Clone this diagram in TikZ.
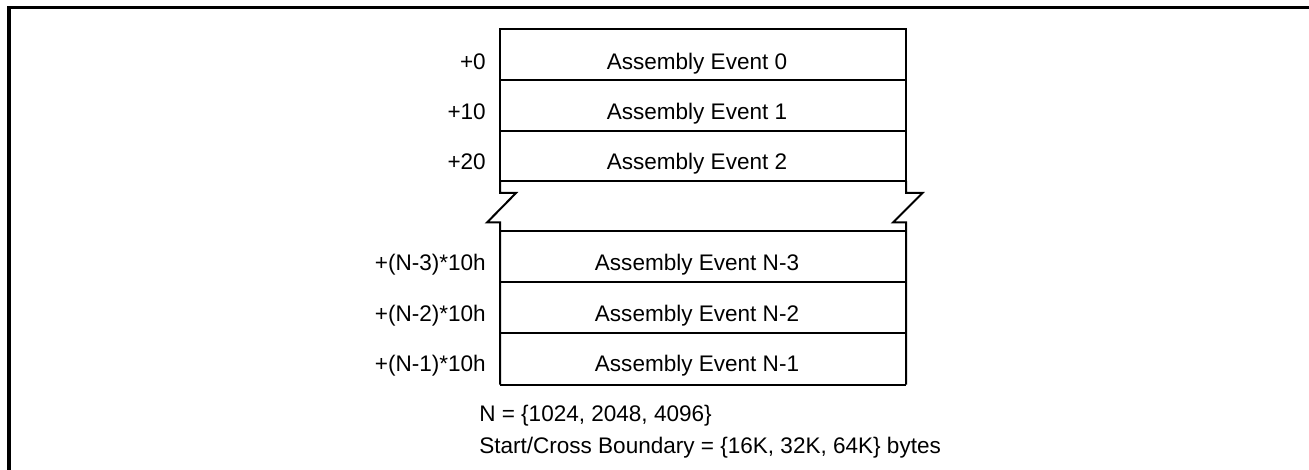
\documentclass[tikz,border=0pt]{standalone}
\usepackage{fontspec}
\setmainfont{Liberation Sans}
\begin{document}
\begin{tikzpicture}[x=0.75pt,y=-0.75pt,
  boxline/.style={line width=1.5pt,line join=miter},
  txt/.style={font=\fontsize{16.9}{20}\selectfont,inner sep=0pt},
  rowtext/.style={txt,anchor=base},
  offtext/.style={txt,anchor=base east},
  notetext/.style={txt,anchor=base west}]
\useasboundingbox (0,0) rectangle (1309,470);
\clip (0,0) rectangle (1309,470);
% frame
\draw[line width=2.5pt] (9,480) -- (9,7.7) -- (1320,7.7);
% coordinates
\coordinate (tl) at (500,29.5);
\coordinate (tr) at (906,29.5);
\coordinate (r1l) at (500,80.5);
\coordinate (r1r) at (906,80.5);
\coordinate (r2l) at (500,131);
\coordinate (r2r) at (906,131);
\coordinate (r3l) at (500,181);
\coordinate (r3r) at (906,181);
\coordinate (bl) at (500,384.5);
\coordinate (br) at (906,384.5);
\coordinate (s1l) at (500,231.5);
\coordinate (s1r) at (906,231.5);
\coordinate (s2l) at (500,282);
\coordinate (s2r) at (906,282);
\coordinate (s3l) at (500,332.5);
\coordinate (s3r) at (906,332.5);
% upper part
\draw[boxline] (r3l) -- (tl) -- (tr) -- (r3r);
\draw[boxline] (r1l) -- (r1r);
\draw[boxline] (r2l) -- (r2r);
\draw[boxline] (r3l) -- (r3r);
% breaks
\draw[boxline] (r3l) -- (500,193) -- (516,193) -- (487,222.5) -- (500,222.5) -- (bl);
\draw[boxline] (r3r) -- (906,193) -- (922.5,193) -- (893,222.5) -- (906,222.5) -- (br);
% lower part
\draw[boxline] (bl) -- (br);
\draw[boxline] (s1l) -- (s1r);
\draw[boxline] (s2l) -- (s2r);
\draw[boxline] (s3l) -- (s3r);
% row texts
\node[rowtext] (e0) at (697,69.3) {Assembly Event 0};
\node[rowtext] (e1) at (697,119.5) {Assembly Event 1};
\node[rowtext] (e2) at (697,170) {Assembly Event 2};
\node[rowtext] (e3) at (697,270.5) {Assembly Event N-3};
\node[rowtext] (e4) at (697,321) {Assembly Event N-2};
\node[rowtext] (e5) at (697,371.5) {Assembly Event N-1};
% offsets
\node[offtext] (o0) at (486,69.3) {+0};
\node[offtext] (o1) at (486,119.5) {+10};
\node[offtext] (o2) at (486,170) {+20};
\node[offtext] (o3) at (486,270.5) {+(N-3)*10h};
\node[offtext] (o4) at (486,321) {+(N-2)*10h};
\node[offtext] (o5) at (486,371.5) {+(N-1)*10h};
% notes
\node[notetext] (n1) at (479,421.7) {N = \{1024, 2048, 4096\}};
\node[notetext] (n2) at (479,453.3) {Start/Cross Boundary = \{16K, 32K, 64K\} bytes};
\end{tikzpicture}
\end{document}
